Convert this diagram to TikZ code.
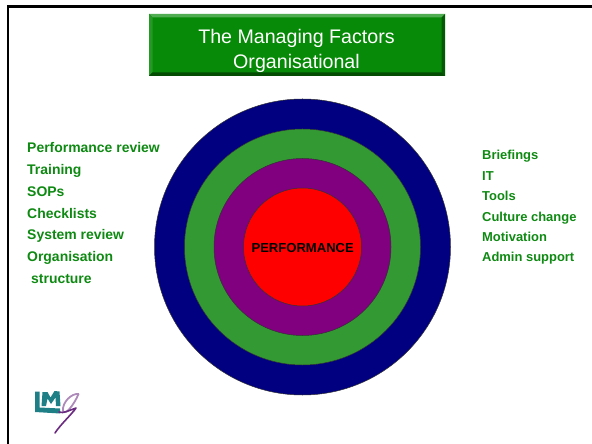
\documentclass[tikz,border=0pt]{standalone}
\usepackage{fontspec}
\setmainfont{Liberation Sans}
\definecolor{tgreen}{HTML}{0E8A12}
\definecolor{boxgreen}{HTML}{078A07}
\definecolor{ringnavy}{HTML}{000080}
\definecolor{ringgreen}{HTML}{339933}
\definecolor{ringpurple}{HTML}{800080}
\definecolor{logoteal}{HTML}{1F7F86}
\definecolor{logopurple}{HTML}{6A2A80}
\tikzset{
  ring/.style={circle,draw=black!80,line width=0.5pt,inner sep=0pt,outer sep=0pt},
  listleft/.style={anchor=base west,inner sep=0pt,text=tgreen,font=\fontsize{14}{16}\selectfont\bfseries},
  listright/.style={anchor=base west,inner sep=0pt,text=tgreen,font=\fontsize{13}{15}\selectfont\bfseries},
  frameline/.style={draw=black,line width=2.4pt},
  titletext/.style={anchor=base,text=white,font=\fontsize{19.7}{24}\selectfont,inner sep=0pt}
}
\begin{document}
\begin{tikzpicture}[x=1bp,y=-1bp]
\useasboundingbox (0,0) rectangle (592,444);
\fill[white] (0,0) rectangle (592,444);
% frame
\draw[frameline,line cap=butt] (8.3,444) -- (8.3,6.5) -- (592,6.5);
% title box
\fill[boxgreen] (149,14) rectangle (445,76);
\fill[boxgreen!70!white] (149,14) -- (445,14) -- (441.5,17.5) -- (152.5,17.5) -- cycle;
\fill[boxgreen!88!white] (149,14) -- (152.5,17.5) -- (152.5,72.5) -- (149,76) -- cycle;
\fill[boxgreen!65!black] (445,14) -- (441.5,17.5) -- (441.5,72.5) -- (445,76) -- cycle;
\fill[boxgreen!55!black] (149,76) -- (152.5,72.5) -- (441.5,72.5) -- (445,76) -- cycle;
\node[titletext] (title) at (296.5,44) {The Managing Factors};
\node[titletext] (title2) at (296.5,69) {Organisational};
% rings
\node[ring,fill=ringnavy,minimum size=296bp] (r1) at (302.5,247) {};
\node[ring,fill=ringgreen,minimum size=236bp] (r2) at (302.5,247) {};
\node[ring,fill=ringpurple,minimum size=177bp] (r3) at (302.5,247) {};
\node[ring,fill=red,minimum size=118bp] (r4) at (302.5,247) {};
\node[anchor=base,inner sep=0pt,font=\fontsize{13.1}{15}\selectfont\bfseries,text=black] (perf) at (302.7,252.8) {PERFORMANCE};
% left list
\node[listleft] (l1) at (27,152.7) {Performance review};
\node[listleft] (l2) at (27,174.7) {Training};
\node[listleft] (l3) at (27,196.7) {SOPs};
\node[listleft] (l4) at (27,218.4) {Checklists};
\node[listleft] (l5) at (27,239.7) {System review};
\node[listleft] (l6) at (27,261.7) {Organisation};
\node[listleft] (l7) at (31,283.4) {structure};
% right list
\node[listright] (q1) at (482,159.7) {Briefings};
\node[listright] (q2) at (482,180.2) {IT};
\node[listright] (q3) at (482,200.7) {Tools};
\node[listright] (q4) at (482,221.2) {Culture change};
\node[listright] (q5) at (482,241.7) {Motivation};
\node[listright] (q6) at (482,262) {Admin support};
% logo
\fill[logoteal] (35,391.5) -- (35,412) -- (60,413.5) -- (60,408.5) -- (39.5,407.5) -- (39.5,391.5) -- cycle;
\fill[logoteal] (41.5,406) -- (42.5,392) -- (47.5,392) -- (50.5,397.5) -- (54.5,391) -- (59.5,391.5) -- (60.5,406) -- (56,406) -- (55.5,397.5) -- (51,404) -- (47.5,398.5) -- (46,406) -- cycle;
\draw[logopurple!55!white,line width=1.8pt,line cap=round,line join=round]
  (78.5,394) .. controls (72,393) and (62,402) .. (63,411) .. controls (65,416) and (74,405) .. (78.5,394);
\draw[logopurple,line width=1.6pt,line cap=round,line join=round]
  (55,433) .. controls (60,425) and (72,414) .. (76,408) .. controls (70,410) and (63,414) .. (59,412);
\end{tikzpicture}
\end{document}
